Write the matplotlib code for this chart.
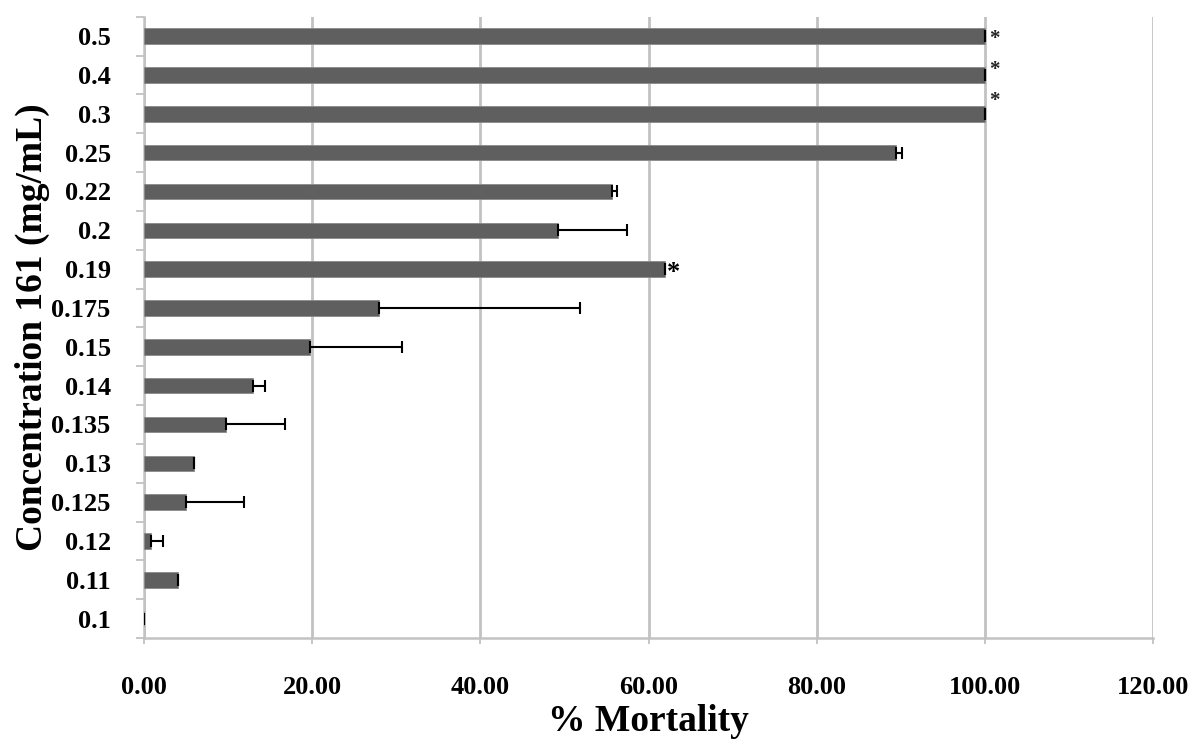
import numpy as np
import matplotlib
matplotlib.use('Agg')
import matplotlib.pyplot as plt
from matplotlib.ticker import FixedLocator

# concentration of compound 161, top to bottom as drawn
concentrations = ['0.5', '0.4', '0.3', '0.25', '0.22', '0.2', '0.19', '0.175',
                  '0.15', '0.14', '0.135', '0.13', '0.125', '0.12', '0.11', '0.1']
mortality = [100.0, 100.0, 100.0, 89.4, 55.7, 49.2, 61.9, 27.9,
             19.7, 13.0, 9.7, 5.9, 5.0, 0.8, 4.1, 0.0]
err_plus = [0.0, 0.0, 0.0, 0.7, 0.5, 8.2, 0.0, 23.9,
            11.0, 1.4, 7.1, 0.0, 6.9, 1.5, 0.0, 0.0]
# rows marked with an asterisk
marked = ['0.5', '0.4', '0.3', '0.19']

BAR_COLOR = '#5f5f5f'
GRID_COLOR = '#c2c2c2'
FONT = 'Liberation Serif'

# vertical nudge of each asterisk relative to its bar (row units)
star_nudge = {'0.5': -0.08, '0.4': 0.13, '0.3': 0.33, '0.19': 0.0}

plt.rcParams['font.family'] = [FONT, 'DejaVu Serif']
plt.rcParams['font.weight'] = 'bold'

fig = plt.figure(figsize=(11.95, 7.4), dpi=100)
ax = fig.add_axes([0.1205, 0.1378, 0.8444, 0.8396])

n = len(concentrations)
ypos = np.arange(n)[::-1]
zeros = np.zeros(n)

ax.barh(ypos, mortality, height=0.4, color=BAR_COLOR, edgecolor='#8a8a8a',
        linewidth=0.6, zorder=3)
ax.errorbar(mortality, ypos, xerr=[zeros, err_plus], fmt='none', ecolor='black',
            elinewidth=1.5, capsize=4.5, capthick=1.5, zorder=4)

for y, m, c in zip(ypos, mortality, concentrations):
    if c not in marked:
        continue
    if c == '0.19':
        ax.text(m + 1.1, y - 0.08, '*', fontsize=19, ha='center', va='center',
                color='black', zorder=5)
    else:
        ax.text(m + 1.1, y + star_nudge[c], '*', fontsize=15, ha='center',
                va='center', color='#222222', zorder=5)

ax.set_xlim(0, 120)
ax.set_ylim(-0.5, n - 0.5)

ax.set_xticks(np.arange(0, 121, 20))
ax.set_xticklabels(['%.2f' % v for v in np.arange(0, 121, 20)])
ax.set_yticks(ypos)
ax.set_yticklabels(concentrations)
ax.yaxis.set_minor_locator(FixedLocator(np.arange(-0.5, n, 1.0)))

ax.tick_params(axis='y', which='major', length=0, pad=24, labelsize=19)
ax.tick_params(axis='y', which='minor', length=5.5, width=1.3, color=GRID_COLOR,
               direction='out')
ax.tick_params(axis='x', which='major', length=4, width=1.3, color=GRID_COLOR,
               direction='out', pad=23, labelsize=19)

ax.grid(axis='x', color=GRID_COLOR, linewidth=2.0, zorder=0)
ax.set_axisbelow(True)

for side in ['top', 'right']:
    ax.spines[side].set_visible(False)
for side in ['left', 'bottom']:
    ax.spines[side].set_color(GRID_COLOR)
    ax.spines[side].set_linewidth(1.8)

ax.set_xlabel('% Mortality', fontsize=27, fontweight='bold', labelpad=4)
ax.set_ylabel('Concentration 161 (mg/mL)', fontsize=27, fontweight='bold')
ax.yaxis.set_label_coords(-0.093, 0.5)

fig.savefig('out.png', dpi=100)
